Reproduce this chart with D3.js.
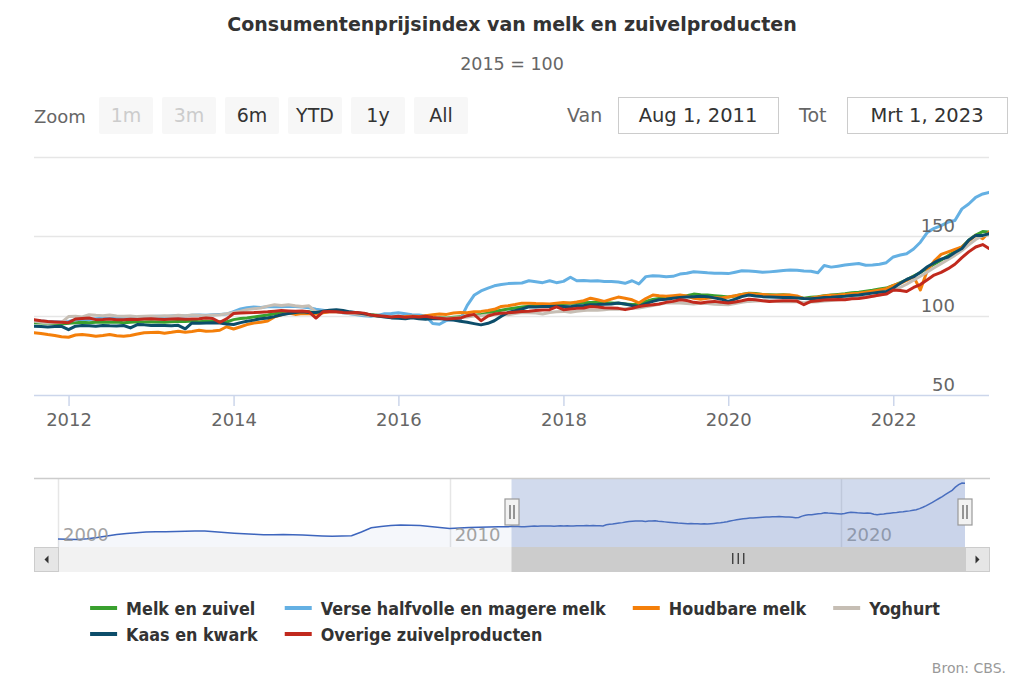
<!DOCTYPE html>
<html><head><meta charset="utf-8">
<script src="https://cdn.jsdelivr.net/npm/d3@7/dist/d3.min.js"></script>
<style>
html,body{margin:0;padding:0;background:#fff;}
svg{display:block;font-family:"DejaVu Sans",sans-serif;}
</style></head><body>
<svg id="chart" width="1024" height="683"></svg>
<script>
// ---------------- DATA ----------------
const titleText = "Consumentenprijsindex van melk en zuivelproducten";
const subtitleText = "2015 = 100";
const creditsText = "Bron: CBS.";
const seriesNames = ["Melk en zuivel","Verse halfvolle en magere melk","Houdbare melk","Yoghurt","Kaas en kwark","Overige zuivelproducten"];
const seriesColors = ["#39a02e","#64b0e3","#f47f0a","#c6beb4","#0c4d6a","#c1291d"];
const firstMonth = "2011-08-01";   // monthly series, Aug 2011 .. Mar 2023
const lastMonth = "2023-03-01";

const melkEnZuivel = [
 95.6,95.4,95.2,95.0,94.8,
 95.2,95.6,95.8,95.6,95.9,96.0,95.8,96.0,95.6,95.8,96.1,96.0,
 96.2,96.0,95.8,96.2,96.4,96.3,96.6,96.2,96.5,96.4,96.2,96.0,
 97.5,98.2,98.6,99.2,99.8,100.4,101.2,101.8,102.3,102.6,102.5,102.4,
 101.8,102.4,102.6,102.8,102.2,101.8,101.4,101.0,100.6,100.2,99.8,99.6,
 99.4,99.0,99.2,98.8,99.0,98.6,98.8,98.6,99.0,99.4,99.8,100.2,
 100.8,101.6,102.6,103.4,104.2,104.8,105.4,106.0,106.4,106.6,106.9,107.2,
 107.6,107.8,107.9,108.1,108.3,108.4,108.2,108.0,107.8,107.4,107.0,107.2,
 109.0,110.2,110.8,111.0,111.6,112.2,112.6,113.6,113.2,113.0,112.6,112.2,
 111.8,112.4,113.4,114.2,113.9,113.4,113.2,113.0,113.2,112.8,111.6,111.0,
 111.6,112.0,112.6,113.0,113.4,113.8,114.4,114.8,115.4,116.0,116.8,117.4,
 119.0,120.8,122.6,125.0,127.2,130.0,132.4,135.0,137.8,140.5,143.3,147.5,
 150.8,153.0,152.7
];
const verseMelk = [
 96.8,96.6,96.4,96.2,96.0,
 96.4,97.4,97.8,97.6,98.0,98.4,98.2,98.6,98.4,98.6,99.0,99.2,
 99.4,99.6,99.4,99.8,100.0,99.8,100.2,100.4,100.2,100.6,100.8,101.0,
 102.6,104.2,105.0,105.4,105.2,105.6,105.8,105.6,106.0,105.8,105.4,105.0,
 104.0,103.4,102.8,102.6,101.8,101.2,100.6,100.0,99.6,100.2,101.2,101.4,
 101.8,101.2,100.6,100.4,99.8,95.0,94.6,97.0,97.4,97.6,106.5,112.8,
 115.6,117.4,118.8,119.6,120.2,120.4,120.6,122.0,121.4,120.8,122.0,120.8,
 121.6,124.2,122.0,122.2,121.8,122.0,121.6,121.5,121.2,120.4,122.0,120.0,
 124.6,125.2,125.0,124.6,124.8,126.2,126.7,127.7,127.4,127.0,126.8,126.7,
 126.5,127.4,128.3,128.1,127.8,127.3,127.6,128.0,128.4,128.8,128.6,128.1,
 128.0,127.0,131.6,130.6,131.2,131.9,132.4,132.9,131.8,132.0,132.4,133.4,
 137.0,138.2,139.0,142.0,146.3,152.5,155.0,156.7,159.0,160.0,167.3,170.4,
 174.6,176.7,177.7
];
const houdbareMelk = [
 89.2,88.8,88.1,87.5,86.7,
 86.4,87.8,88.1,87.6,87.0,87.5,88.1,87.4,87.0,87.5,88.4,89.2,
 89.4,89.6,88.9,89.5,90.2,89.6,90.0,90.8,90.2,90.4,90.8,93.0,
 91.6,93.0,94.4,95.4,95.8,96.6,99.2,100.6,101.6,100.8,101.4,101.2,
 101.0,101.8,102.4,102.6,102.2,101.6,101.2,100.8,100.2,99.8,99.4,99.2,
 99.0,99.4,99.6,99.4,100.0,100.6,101.0,100.8,101.7,102.0,101.8,102.4,
 102.7,103.2,104.0,105.8,106.3,107.0,107.9,107.9,107.6,107.5,107.3,107.8,
 108.3,108.0,108.6,109.4,111.0,110.0,109.0,110.4,111.7,111.0,110.0,108.0,
 110.8,113.0,112.5,112.2,112.6,113.0,112.4,111.0,110.4,111.0,111.4,111.2,
 111.8,112.6,113.4,114.0,113.6,113.4,113.0,112.8,113.0,113.0,112.4,110.8,
 111.0,111.8,112.4,112.8,113.0,113.4,113.8,114.2,114.8,115.4,116.2,117.0,
 119.0,120.4,122.2,124.6,116.2,128.6,134.4,138.6,140.2,141.8,143.3,147.0,
 150.6,148.5,152.7
];
const yoghurt = [
 96.5,95.8,95.4,95.6,95.8,
 99.4,99.6,99.2,100.6,100.2,100.0,100.4,99.8,99.6,99.8,99.4,99.6,
 99.8,99.6,100.0,99.8,100.2,100.0,100.4,100.2,100.0,100.4,100.6,101.2,
 102.0,102.8,103.8,104.4,104.8,106.0,106.9,106.4,106.9,106.2,105.8,106.2,
 102.4,102.8,102.6,102.4,101.8,101.4,101.0,100.6,100.2,99.8,99.6,99.4,
 99.2,98.8,99.0,98.6,99.0,98.8,98.6,98.4,98.6,98.8,99.2,99.8,
 100.0,100.4,100.6,101.0,100.6,101.4,102.0,101.8,101.7,101.0,102.0,102.4,
 102.7,102.2,102.8,103.2,103.6,103.4,103.8,104.2,104.0,104.4,104.6,104.8,
 105.6,106.4,107.2,108.0,108.2,108.0,107.6,107.4,107.8,107.6,107.2,107.0,
 106.9,107.6,108.4,109.0,109.2,109.4,109.4,109.0,108.8,109.0,108.8,108.2,
 108.6,108.8,109.2,109.6,110.0,110.4,110.8,111.4,111.8,112.2,113.0,114.0,
 116.0,117.8,119.8,122.4,124.8,127.6,130.2,132.8,135.4,138.0,141.0,144.6,
 148.0,150.4,151.0
];
const kaasEnKwark = [
 93.3,93.1,92.9,93.2,93.3,
 91.2,93.4,93.8,93.6,93.4,93.8,93.6,93.5,93.8,92.3,94.4,94.2,
 93.8,94.0,93.8,93.6,93.9,91.7,95.4,95.2,95.4,95.6,95.4,94.8,
 94.4,95.6,96.5,97.2,98.0,98.5,99.4,100.6,101.4,102.0,102.4,102.0,
 102.0,102.8,103.4,103.8,103.2,102.4,101.8,101.2,100.4,99.8,99.2,98.6,
 98.4,98.0,98.6,98.0,97.8,98.2,98.0,97.8,97.2,96.5,95.8,95.0,
 94.2,95.2,96.8,99.6,102.0,103.2,104.2,105.6,105.4,105.8,105.8,106.0,
 105.8,105.6,106.2,106.4,106.9,107.0,107.2,107.4,108.0,107.4,106.4,105.8,
 107.6,109.0,110.0,110.4,111.0,111.4,111.8,112.0,112.2,112.0,111.2,110.4,
 109.0,110.4,112.0,113.0,112.4,112.0,111.8,111.6,111.4,111.5,111.2,110.8,
 110.6,111.0,111.4,111.6,112.0,112.2,112.7,113.0,113.6,114.2,114.8,115.2,
 117.4,120.4,122.8,124.6,127.4,130.8,133.4,135.6,137.0,139.8,142.3,147.5,
 150.6,150.6,151.7
];
const overigeZuivel = [
 97.5,96.8,96.3,96.0,95.8,
 95.6,97.9,98.2,98.5,97.5,97.6,97.9,97.4,97.5,97.8,97.6,97.9,
 98.0,97.8,97.6,97.9,98.0,97.8,97.9,98.0,98.5,98.2,95.8,98.0,
 101.4,101.7,101.9,102.0,102.2,102.4,102.8,103.3,103.0,102.8,103.0,102.4,
 98.5,102.4,102.6,102.4,102.0,101.8,102.0,101.6,100.4,100.0,99.6,99.2,
 99.6,99.0,99.4,99.2,99.6,98.8,98.4,97.9,98.2,98.5,100.0,100.8,
 96.8,99.8,101.0,101.6,101.8,102.2,102.6,102.8,103.2,103.6,103.8,105.6,
 103.8,104.2,104.6,104.8,105.8,105.4,105.0,104.8,104.6,103.8,104.6,105.8,
 106.4,106.9,107.4,108.4,109.0,110.0,109.6,108.4,108.0,108.6,109.0,108.4,
 108.0,108.6,109.4,110.4,110.0,109.4,109.0,109.2,109.4,109.4,109.2,106.9,
 109.0,109.4,109.8,110.0,110.2,110.0,110.6,110.8,111.4,112.2,113.0,113.6,
 116.2,115.8,115.2,117.8,119.6,122.6,125.6,127.3,129.6,132.4,136.6,140.2,
 143.3,144.8,142.3
];
// navigator: earlier history of "Melk en zuivel", quarterly, Jan 2000 .. Jul 2011
const navHistoryStart = "2000-01-01";
const navHistory = [
 78.8,78.4,78.0,79.0, 80.6,82.6,84.5,86.0, 87.0,87.8,88.2,88.4, 88.6,88.8,89.2,89.3,
 88.2,87.2,86.4,85.6, 85.0,84.2,84.4,84.6, 84.4,84.0,83.4,82.8, 82.2,82.6,83.1,88.0,
 93.6,95.4,96.6,97.2, 97.0,96.6,95.2,94.0, 92.6,93.2,94.0,94.4, 94.6,94.8,95.0
];
const yTickValues = [50,100,150,200];
const yLabelValues = [50,100,150];
const xTickYears = [2012,2014,2016,2018,2020,2022];
const navTickYears = [2000,2010,2020];
const zoomButtons = ["1m","3m","6m","YTD","1y","All"];
const disabledButtons = ["1m","3m"];
const fromLabel = "Van", toLabel = "Tot";
const fromText = "Aug 1, 2011", toText = "Mrt 1, 2023";
const zoomLabel = "Zoom";
const legendRows = [[0,1,2,3],[4,5]];

// ---------------- BUILD ----------------
const allSeries = [melkEnZuivel, verseMelk, houdbareMelk, yoghurt, kaasEnKwark, overigeZuivel];
const parse = d3.timeParse("%Y-%m-%d");
const t0 = parse(firstMonth), t1 = parse(lastMonth);
const seriesData = allSeries.map(arr => arr.map((v,i)=>({date:d3.timeMonth.offset(t0,i), v})));

const svg = d3.select("#chart");
const P = {left:34, right:989, top:157, bottom:395};
const x = d3.scaleTime().domain([t0,t1]).range([P.left,P.right]);
const y = d3.scaleLinear().domain([50,200]).range([P.bottom,P.top]);

// title
svg.append("text").attr("x",512).attr("y",31).attr("text-anchor","middle")
  .attr("fill","#333").style("font-size","19px").style("font-weight","bold").text(titleText);
svg.append("text").attr("x",512).attr("y",70).attr("text-anchor","middle")
  .attr("fill","#666").style("font-size","17.5px").text(subtitleText);

// range selector
svg.append("text").attr("x",34).attr("y",123).attr("fill","#666").style("font-size","18px").text(zoomLabel);
const btn = svg.append("g").selectAll("g").data(zoomButtons).join("g")
  .attr("transform",(d,i)=>`translate(${99+i*63},97)`);
btn.append("rect").attr("width",54).attr("height",37).attr("rx",2).attr("fill","#f7f7f7");
btn.append("text").attr("x",27).attr("y",25).attr("text-anchor","middle")
  .style("font-size","19px").attr("fill",d=>disabledButtons.includes(d)?"#cccccc":"#333").text(d=>d);

function inputBox(label, lx, bx, txt){
  svg.append("text").attr("x",lx).attr("y",122).attr("fill","#666").style("font-size","19px").text(label);
  svg.append("rect").attr("x",bx+0.5).attr("y",97.5).attr("width",160).attr("height",36)
    .attr("fill","#fff").attr("stroke","#cccccc");
  svg.append("text").attr("x",bx+80).attr("y",122).attr("text-anchor","middle").attr("fill","#333")
    .style("font-size","19.5px").text(txt);
}
inputBox(fromLabel, 567, 618, fromText);
inputBox(toLabel, 799, 847, toText);

// grid
svg.append("g").selectAll("line").data(yTickValues.filter(v=>v!==50)).join("line")
  .attr("x1",P.left).attr("x2",P.right).attr("y1",d=>Math.round(y(d))+0.5).attr("y2",d=>Math.round(y(d))+0.5)
  .attr("stroke","#e6e6e6").attr("stroke-width",1.5);

// x axis
const xAxis = svg.append("g").attr("transform",`translate(0,${P.bottom})`)
  .call(d3.axisBottom(x).tickValues(xTickYears.map(yr=>new Date(yr,0,1))).tickSize(11).tickFormat(d3.timeFormat("%Y")));
xAxis.select(".domain").remove();
xAxis.selectAll(".tick line").attr("stroke","#ccd6eb").attr("stroke-width",1.5);
xAxis.selectAll(".tick text").attr("y",18).attr("fill","#666").style("font-size","18px").style("font-family","DejaVu Sans");
svg.append("line").attr("x1",P.left).attr("x2",P.right).attr("y1",P.bottom+0.5).attr("y2",P.bottom+0.5)
  .attr("stroke","#ccd6eb").attr("stroke-width",1.5);

// series
svg.append("defs").append("clipPath").attr("id","clip").append("rect")
  .attr("x",P.left).attr("y",P.top-5).attr("width",P.right-P.left).attr("height",P.bottom-P.top+5);
const line = d3.line().x(d=>x(d.date)).y(d=>y(d.v));
svg.append("g").attr("clip-path","url(#clip)").selectAll("path").data(seriesData).join("path")
  .attr("d",line).attr("fill","none").attr("stroke",(d,i)=>seriesColors[i])
  .attr("stroke-width",3).attr("stroke-linejoin","round").attr("stroke-linecap","round");

// y labels
svg.append("g").selectAll("text").data(yLabelValues).join("text")
  .attr("x",955).attr("y",d=>y(d)-4).attr("text-anchor","end").attr("fill","#666")
  .style("font-size","18px").text(d=>d);

// ---------------- NAVIGATOR ----------------
const N = {left:58, right:965, top:479, bottom:547};
const navStart = parse(navHistoryStart);
const navData = navHistory.map((v,i)=>({date:d3.timeMonth.offset(navStart,i*3), v})).concat(seriesData[0]);
const nx = d3.scaleTime().domain([navStart,t1]).range([N.left,N.right]);
const ny = d3.scaleLinear().domain(d3.extent(navData,d=>d.v)).range([539.5,483]);

svg.append("g").selectAll("line").data(navTickYears).join("line")
  .attr("x1",d=>Math.round(nx(new Date(d,0,1)))+0.5).attr("x2",d=>Math.round(nx(new Date(d,0,1)))+0.5)
  .attr("y1",N.top).attr("y2",N.bottom).attr("stroke","#e6e6e6").attr("stroke-width",1.5);
svg.append("path").datum(navData)
  .attr("d",d3.area().x(d=>nx(d.date)).y0(N.bottom).y1(d=>ny(d.v)))
  .attr("fill","rgba(51,92,173,0.05)");
svg.append("path").datum(navData)
  .attr("d",d3.line().x(d=>nx(d.date)).y(d=>ny(d.v)))
  .attr("fill","none").attr("stroke","#3d65bd").attr("stroke-width",1.5);
svg.append("g").selectAll("text").data(navTickYears).join("text")
  .attr("x",d=>nx(new Date(d,0,1))+5).attr("y",540.5).attr("fill","#999").attr("opacity",0.9)
  .style("font-size","18px").text(d=>d);
// mask
const sx0 = nx(t0), sx1 = nx(t1);
svg.append("rect").attr("x",sx0).attr("y",N.top).attr("width",sx1-sx0).attr("height",N.bottom-N.top)
  .attr("fill","rgba(102,133,194,0.3)");
// outline
svg.append("line").attr("x1",34).attr("x2",990).attr("y1",478.5).attr("y2",478.5).attr("stroke","#cccccc").attr("stroke-width",1.5);

// scrollbar
const S = {y:547, h:25};
svg.append("rect").attr("x",34).attr("y",S.y).attr("width",956).attr("height",S.h).attr("fill","#f2f2f2");
svg.append("rect").attr("x",sx0).attr("y",S.y).attr("width",sx1-sx0).attr("height",S.h).attr("fill","#cccccc");
[[34,"L"],[965,"R"]].forEach(([bx,dir])=>{
  svg.append("rect").attr("x",bx+0.5).attr("y",S.y+0.5).attr("width",24).attr("height",S.h-1)
    .attr("fill","#e6e6e6").attr("stroke","#cccccc");
  const cx = bx+12.5, cy = S.y+12.5;
  const p = dir==="L" ? `M${cx+2},${cy-4}L${cx-2},${cy}L${cx+2},${cy+4}Z` : `M${cx-2},${cy-4}L${cx+2},${cy}L${cx-2},${cy+4}Z`;
  svg.append("path").attr("d",p).attr("fill","#333");
});
const rc = (sx0+sx1)/2;
[-5.5,0,5.5].forEach(o=>svg.append("line").attr("x1",rc+o).attr("x2",rc+o).attr("y1",S.y+6).attr("y2",S.y+17)
  .attr("stroke","#333").attr("stroke-width",1.3));

// handles
[sx0,sx1].forEach(hx=>{
  const g = svg.append("g").attr("transform",`translate(${Math.round(hx)},512)`);
  g.append("rect").attr("x",-7).attr("y",-13).attr("width",14).attr("height",26)
    .attr("fill","#f2f2f2").attr("stroke","#999").attr("stroke-width",1.2);
  [-2,2].forEach(o=>g.append("line").attr("x1",o).attr("x2",o).attr("y1",-7).attr("y2",7).attr("stroke","#555").attr("stroke-width",1.2));
});

// ---------------- LEGEND ----------------
const legend = svg.append("g");
const LG = {symW:27, gap:9, dist:27, rowY:[608,634], fs:"17.8px"};
const legendFont = sel => sel.style("font-family","'DejaVu Sans Condensed','DejaVu Sans'").style("font-weight","bold")
  .style("font-size",LG.fs).style("font-stretch","condensed");
const tmp = legend.append("text").call(legendFont);
const widths = seriesNames.map(n=>{tmp.text(n); return tmp.node().getComputedTextLength();});
tmp.remove();
const nCols = d3.max(legendRows, r=>r.length);
const colW = d3.range(nCols).map(c=>d3.max(legendRows, r=> r[c]!==undefined ? LG.symW+LG.gap+widths[r[c]] : 0));
const totalW = d3.sum(colW) + LG.dist*(nCols-1);
const lx0 = 515 - totalW/2;
const colX = colW.map((w,i)=>lx0 + d3.sum(colW.slice(0,i)) + LG.dist*i);
legendRows.forEach((row,ri)=>row.forEach((si,ci)=>{
  const g = legend.append("g").attr("transform",`translate(${colX[ci]},${LG.rowY[ri]})`);
  g.append("line").attr("x1",0).attr("x2",LG.symW).attr("y1",0).attr("y2",0).attr("stroke",seriesColors[si]).attr("stroke-width",4);
  g.append("text").attr("x",LG.symW+LG.gap).attr("y",6.5).attr("fill","#333").call(legendFont).text(seriesNames[si]);
}));

// credits
svg.append("text").attr("x",1006).attr("y",673).attr("text-anchor","end").attr("fill","#999").style("font-size","14px").text(creditsText);
</script>
</body></html>
